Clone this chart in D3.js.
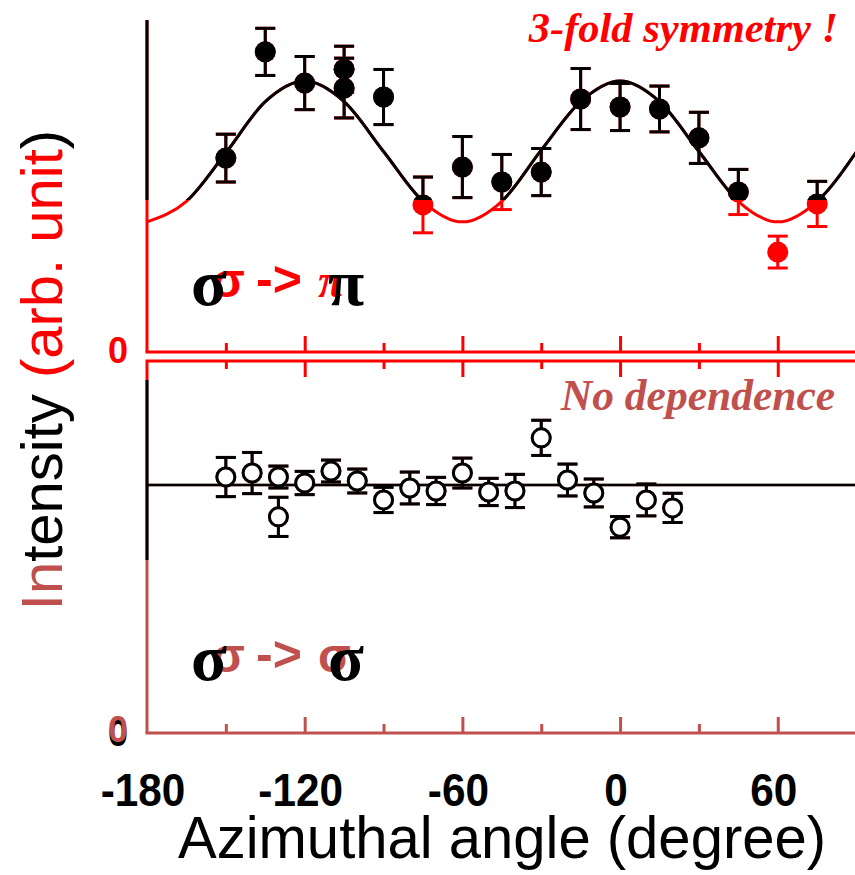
<!DOCTYPE html>
<html><head><meta charset="utf-8">
<script src="https://cdn.jsdelivr.net/npm/d3@7/dist/d3.min.js"></script>
<style>html,body{margin:0;padding:0;background:#fff;} svg{display:block;}</style>
</head><body>
<svg id="chart" width="855" height="875"></svg>
<script>
// ---------------- data ----------------
// sigma -> pi channel (filled circles)
const topAngles = [-150,-135,-120,-105,-105,-90,-75,-60,-45,-30,-15,0,15,30,45,60,75];
const topValues = [5.84,9.04,8.10,8.52,7.95,7.68,4.43,5.57,5.12,5.42,7.62,7.38,7.32,6.45,4.82,3.01,4.46];
const topErrors = [0.72,0.71,0.80,0.69,0.90,0.83,0.84,0.92,0.83,0.71,0.92,0.71,0.69,0.77,0.68,0.48,0.68];
const curveAngles = [-180,-165,-150,-135,-120,-105,-90,-75,-60,-45,-30,-15,0,15,30,45,60,75,90];
const curveValues = [3.92,4.54,6.00,7.54,8.16,7.54,6.04,4.54,3.92,4.54,6.08,7.54,8.16,7.54,6.04,4.54,3.92,4.54,6.04];
// sigma -> sigma channel (open circles)
const botAngles = [-150,-140,-130,-130,-120,-110,-100,-90,-80,-70,-60,-50,-40,-30,-20,-10,0,10,20];
const botValues = [7.71,7.83,7.71,6.51,7.53,7.89,7.59,7.02,7.38,7.29,7.83,7.26,7.29,8.89,7.62,7.23,6.20,7.02,6.78];
const botErrors = [0.59,0.62,0.33,0.59,0.35,0.33,0.36,0.38,0.48,0.41,0.45,0.41,0.50,0.53,0.48,0.42,0.32,0.48,0.44];
const botLevel = [7.47];
// ticks
const majorTicks = [-120,-60,0,60];
const minorTicks = [-150,-90,-30,30];
const tickLabelValues = [-180,-120,-60,0,60];
const tickLabels = ["-180","-120","-60","0","60"];

// ---------------- setup ----------------
const RED = "#ff0000", DRED = "#c0504d", BLACK = "#000";
const SANS = "'Liberation Sans', Arial, sans-serif";
const SERIF = "'Liberation Serif', 'Times New Roman', serif";
const svg = d3.select("#chart");
const x = d3.scaleLinear().domain([-180, 90]).range([147, 856.6]);
const yTop = d3.scaleLinear().domain([0, 10]).range([352, 20]);
const yBot = d3.scaleLinear().domain([0, 10]).range([733, 401]);

const defs = svg.append("defs");
defs.append("clipPath").attr("id", "clipTopBlack")
  .append("rect").attr("x", 0).attr("y", 0).attr("width", 855).attr("height", 200);
defs.append("clipPath").attr("id", "clipBotBlack")
  .append("rect").attr("x", 0).attr("y", 380).attr("width", 855).attr("height", 180);

const topPts = topAngles.map((a, i) => ({a, v: topValues[i], e: topErrors[i]}));
const botPts = botAngles.map((a, i) => ({a, v: botValues[i], e: botErrors[i]}));
const curvePts = curveAngles.map((a, i) => ({a, v: curveValues[i]}));

function drawErrBars(g, pts, y, color) {
  const cap = 10;
  const eb = g.append("g").attr("stroke", color).attr("stroke-width", 3).attr("fill", "none");
  pts.forEach(p => {
    const cx = x(p.a), y1 = y(p.v + p.e), y2 = y(p.v - p.e);
    eb.append("line").attr("x1", cx).attr("x2", cx).attr("y1", y1).attr("y2", y2);
    eb.append("line").attr("x1", cx - cap).attr("x2", cx + cap).attr("y1", y1).attr("y2", y1);
    eb.append("line").attr("x1", cx - cap).attr("x2", cx + cap).attr("y1", y2).attr("y2", y2);
  });
}

// ---------- top panel layers ----------
function drawTopLayer(g, color) {
  g.append("line").attr("x1", 147).attr("x2", 147).attr("y1", 20).attr("y2", 352)
    .attr("stroke", color).attr("stroke-width", 3);
  const line = d3.line().x(d => x(d.a)).y(d => yTop(d.v)).curve(d3.curveMonotoneX);
  g.append("path").datum(curvePts).attr("d", line)
    .attr("fill", "none").attr("stroke", color).attr("stroke-width", 3);
  drawErrBars(g, topPts, yTop, color);
  g.selectAll("circle.pt").data(topPts).join("circle").attr("class", "pt")
    .attr("cx", d => x(d.a)).attr("cy", d => yTop(d.v)).attr("r", 10.5)
    .attr("fill", color);
}
drawTopLayer(svg.append("g"), RED);
drawTopLayer(svg.append("g").attr("clip-path", "url(#clipTopBlack)"), BLACK);

// top x axis (at zero of top panel)
svg.append("line").attr("x1", 145.5).attr("x2", 855).attr("y1", 352).attr("y2", 352)
  .attr("stroke", RED).attr("stroke-width", 3);
function ticks(yPos, vals, size, color) {
  const ax = (size > 0 ? d3.axisTop(x) : d3.axisBottom(x)).tickValues(vals)
    .tickSize(Math.abs(size)).tickFormat("");
  const g = svg.append("g").attr("transform", `translate(0,${yPos})`).call(ax);
  g.select(".domain").remove();
  g.selectAll(".tick line").attr("stroke", color).attr("stroke-width", 3);
}
ticks(352, majorTicks, 16, RED);
ticks(352, minorTicks, 9, RED);

// ---------- bottom panel ----------
svg.append("path").attr("d", "M147,380V361H855")
  .attr("fill", "none").attr("stroke", RED).attr("stroke-width", 3);
ticks(361, majorTicks, -16, RED);
ticks(361, minorTicks, -8, RED);

function drawBotLayer(g, color) {
  g.append("line").attr("x1", 147).attr("x2", 147).attr("y1", 380).attr("y2", 733)
    .attr("stroke", color).attr("stroke-width", 3);
  g.selectAll("line.lvl").data(botLevel).join("line").attr("class", "lvl")
    .attr("x1", 147).attr("x2", 855).attr("y1", d => yBot(d)).attr("y2", d => yBot(d))
    .attr("stroke", color).attr("stroke-width", 2.5);
  drawErrBars(g, botPts, yBot, color);
  g.selectAll("circle.pt").data(botPts).join("circle").attr("class", "pt")
    .attr("cx", d => x(d.a)).attr("cy", d => yBot(d.v)).attr("r", 9)
    .attr("fill", "#fff").attr("stroke", color).attr("stroke-width", 3);
}
drawBotLayer(svg.append("g"), DRED);
drawBotLayer(svg.append("g").attr("clip-path", "url(#clipBotBlack)"), BLACK);

svg.append("line").attr("x1", 145.5).attr("x2", 855).attr("y1", 733).attr("y2", 733)
  .attr("stroke", DRED).attr("stroke-width", 3);
ticks(733, majorTicks, 16, DRED);
ticks(733, minorTicks, 9, DRED);

// ---------- tick labels ----------
svg.append("g").selectAll("text").data(tickLabelValues).join("text")
  .attr("transform", d => `translate(${x(d) - 4},806) scale(0.92,1)`)
  .attr("text-anchor", "middle")
  .style("font-family", SANS).style("font-weight", "bold").style("font-size", "46px")
  .attr("fill", BLACK).text((d, i) => tickLabels[i]);

// zero labels
svg.append("text").attr("x", 128).attr("y", 363).attr("text-anchor", "end")
  .style("font-family", SANS).style("font-weight", "bold").style("font-size", "36px")
  .attr("fill", RED).text("0");
svg.append("text").attr("x", 128).attr("y", 746).attr("text-anchor", "end")
  .style("font-family", SANS).style("font-weight", "bold").style("font-size", "36px")
  .attr("fill", BLACK).text("0");
svg.append("text").attr("x", 128).attr("y", 742).attr("text-anchor", "end")
  .style("font-family", SANS).style("font-weight", "bold").style("font-size", "36px")
  .attr("fill", DRED).text("0");

// ---------- titles ----------
svg.append("text").attr("transform", "translate(502,858) scale(0.967,1)")
  .attr("text-anchor", "middle")
  .style("font-family", SANS).style("font-size", "60px").attr("fill", BLACK)
  .text("Azimuthal angle (degree)");

const yl = svg.append("text").attr("transform", "translate(62,370) rotate(-90)")
  .attr("text-anchor", "middle")
  .style("font-family", SANS).style("font-size", "58px");
yl.append("tspan").attr("fill", DRED).text("In");
yl.append("tspan").attr("fill", BLACK).text("tensity ");
yl.append("tspan").attr("fill", RED).text("(arb. unit");
yl.append("tspan").attr("fill", BLACK).text(")");

svg.append("text").attr("x", 838).attr("y", 42).attr("text-anchor", "end")
  .style("font-family", SERIF).style("font-weight", "bold").style("font-style", "italic")
  .style("font-size", "42.5px").attr("fill", RED).text("3-fold symmetry !");
svg.append("text").attr("x", 835).attr("y", 410).attr("text-anchor", "end")
  .style("font-family", SERIF).style("font-weight", "bold").style("font-style", "italic")
  .style("font-size", "43.5px").attr("fill", DRED).text("No dependence");

// ---------- channel labels ----------
function channel(yBase, colored, second, secondItalic, blackSecond) {
  // colored sans labels
  svg.append("text").attr("x", 212).attr("y", yBase - 8)
    .style("font-family", SANS).style("font-weight", "bold").style("font-size", "48px")
    .attr("fill", colored).text("σ");
  svg.append("text").attr("x", 256).attr("y", yBase - 9)
    .style("font-family", SANS).style("font-weight", "bold").style("font-size", "50px")
    .attr("fill", colored).text("->");
  svg.append("text").attr("x", 318).attr("y", yBase - 8)
    .style("font-family", secondItalic ? SERIF : SANS).style("font-weight", "bold")
    .style("font-style", secondItalic ? "italic" : "normal")
    .style("font-size", "48px").attr("fill", colored).text(second);
  // black symbol-font labels
  svg.append("text").attr("x", 191).attr("y", yBase)
    .style("font-family", SERIF).style("font-weight", "bold").style("font-size", "66px")
    .attr("fill", BLACK).text("σ");
  svg.append("text").attr("x", 328).attr("y", yBase)
    .style("font-family", SERIF).style("font-weight", "bold").style("font-size", "66px")
    .attr("fill", BLACK).text(blackSecond);
}
channel(305, RED, "π", true, "π");
channel(680, DRED, "σ", false, "σ");
</script>
</body></html>
